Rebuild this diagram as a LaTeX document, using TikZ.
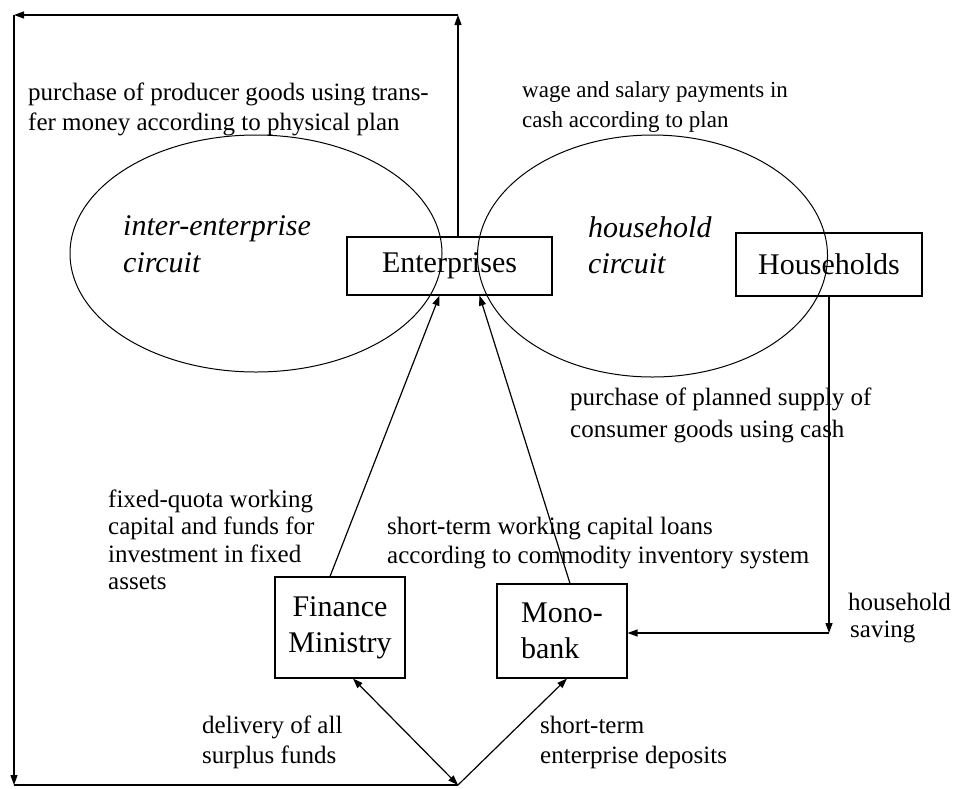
\documentclass[tikz,border=0pt]{standalone}
\usepackage{fontspec}
\setmainfont{Liberation Serif}
\usetikzlibrary{arrows.meta,shapes.geometric}
\begin{document}
\begin{tikzpicture}[x=1pt,y=-1pt,
  ln/.style={line width=1.2pt},
  arr/.style={ln,-{Triangle[length=10pt,width=7pt]}},
  darr/.style={ln,{Triangle[length=10pt,width=7pt]}-{Triangle[length=10pt,width=7pt]}},
  box/.style={draw,line width=1.1pt,inner sep=0pt,font=\fontsize{30}{36}\selectfont},
  oval/.style={draw,ellipse,line width=1pt,inner sep=0pt},
  lbl/.style={anchor=base west,inner sep=0pt,font=\fontsize{25}{30}\selectfont},
  lblsm/.style={lbl,font=\fontsize{23}{30}\selectfont},
  circ/.style={anchor=base west,inner sep=0pt,font=\fontsize{30}{36}\selectfont\itshape}]
\useasboundingbox (0,0) rectangle (957,788);
% circuits
\node[oval,minimum width=372pt,minimum height=237pt] (ie) at (256,253.5) {};
\node[oval,minimum width=350pt,minimum height=242pt] (hc) at (652.5,256) {};
% boxes
\node[box,minimum width=205pt,minimum height=58pt] (E) at (449.5,266) {Enterprises};
\node[box,minimum width=186pt,minimum height=63pt] (H) at (829,264.5) {Households};
\node[box,minimum width=130pt,minimum height=101pt,align=center] (FM) at (340,627.5) {Finance\\Ministry};
\node[box,minimum width=130pt,minimum height=94pt,align=left] (MB) at (562,631) {Mono-\\bank};
% loop coordinates
\coordinate (tr) at (458,15);
\coordinate (tl) at (14,15);
\coordinate (bl) at (14,785);
\coordinate (bc) at (458,785);
\coordinate (hs) at (829,633);
% connectors
\draw[arr] (E.north -| tr) -- (tr);
\draw[arr] (tr) -- (tl);
\draw[arr] (tl) -- (bl);
\draw[ln] (bl) -- (bc);
\draw[darr] (bc) -- ([xshift=13pt]FM.south);
\draw[arr] (bc) -- ([xshift=5pt]MB.south);
\draw[arr] ([xshift=-10pt]FM.north) -- ([xshift=-10pt]E.south);
\draw[arr] ([xshift=8pt]MB.north) -- ([xshift=30pt]E.south);
\draw[arr] (H.south) -- (hs);
\draw[arr] (hs) -- (MB.east |- hs);
% labels
\node[lbl] (p1) at (28,100) {purchase of producer goods using trans-};
\node[lbl] (p2) at (28,130) {fer money according to physical plan};
\node[lblsm] (w1) at (522,97) {wage and salary payments in};
\node[lblsm] (w2) at (522,127) {cash according to plan};
\node[circ] (i1) at (123,235) {inter-enterprise};
\node[circ] (i2) at (123,272) {circuit};
\node[circ] (h1) at (588,237) {household};
\node[circ] (h2) at (588,273) {circuit};
\node[lbl] (c1) at (570,405) {purchase of planned supply of};
\node[lbl] (c2) at (570,437) {consumer goods using cash};
\node[lbl] (f1) at (108,507) {fixed-quota working};
\node[lbl] (f2) at (108,534) {capital and funds for};
\node[lbl] (f3) at (108,562) {investment in fixed};
\node[lbl] (f4) at (108,589) {assets};
\node[lbl] (s1) at (387,534) {short-term working capital loans};
\node[lbl] (s2) at (387,563) {according to commodity inventory system};
\node[lbl] (hs1) at (848,610) {household};
\node[lbl] (hs2) at (850,637) {saving};
\node[lbl] (d1) at (202,733) {delivery of all};
\node[lbl] (d2) at (202,763) {surplus funds};
\node[lbl] (e1) at (540,733) {short-term};
\node[lbl] (e2) at (540,763) {enterprise deposits};
\end{tikzpicture}
\end{document}
